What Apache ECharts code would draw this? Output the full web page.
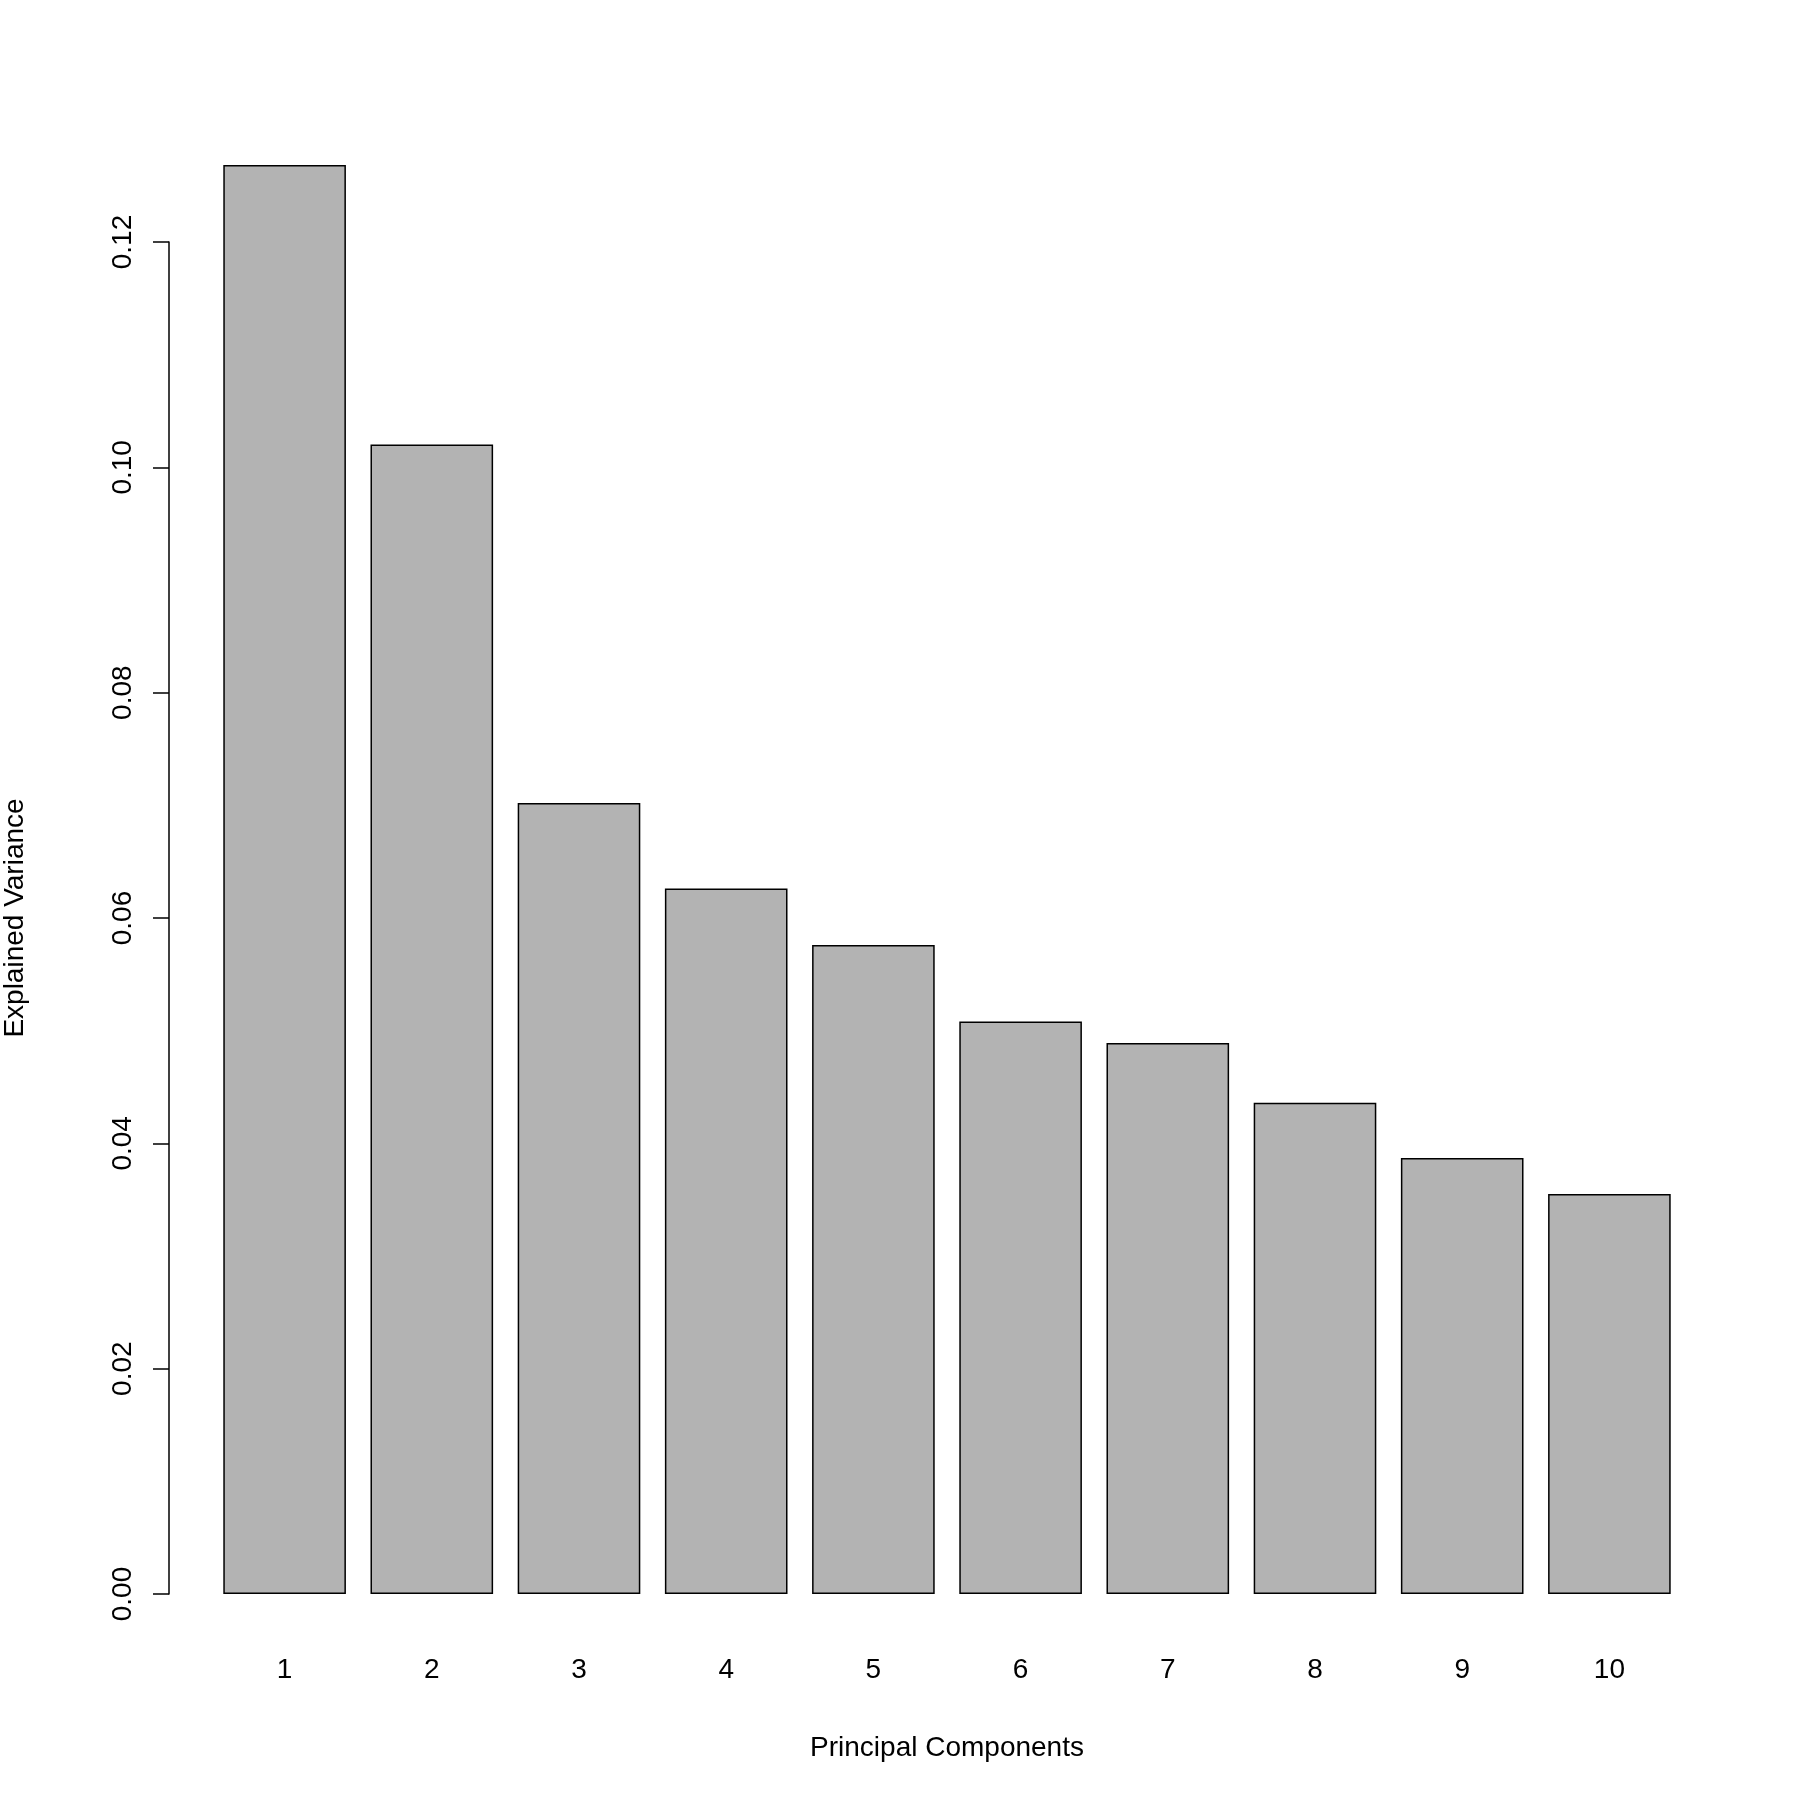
<!DOCTYPE html>
<html><head><meta charset="utf-8">
<script src="https://cdn.jsdelivr.net/npm/echarts@6/dist/echarts.min.js"></script>
<style>html,body{margin:0;background:#fff}#c{width:1800px;height:1800px}</style>
</head><body><div id="c"></div>
<script>
const categories = ['1','2','3','4','5','6','7','8','9','10'];
const values = [0.1268, 0.1020, 0.0702, 0.0626, 0.0576, 0.0508, 0.0489, 0.0436, 0.0387, 0.0355];
const yTicks = [0, 0.02, 0.04, 0.06, 0.08, 0.10, 0.12];
const F = 'Liberation Sans, Arial, sans-serif';
const chart = echarts.init(document.getElementById('c'));
chart.setOption({
  backgroundColor: '#fff',
  animation: false,
  grid: [
    {left: 165, width: 10, top: 242, bottom: 206},
    {left: 211, right: 117, top: 129, bottom: 206}
  ],
  xAxis: [
    {gridIndex: 0, type: 'value', show: false},
    {gridIndex: 1, type: 'category', data: categories,
     axisLine: {show: false}, axisTick: {show: false},
     axisLabel: {fontSize: 28, color: '#000', fontFamily: F, margin: 62},
     name: 'Principal Components', nameLocation: 'middle', nameGap: 140,
     nameTextStyle: {fontSize: 28, color: '#000', fontFamily: F}}
  ],
  yAxis: [
    {gridIndex: 0, type: 'value', min: 0, max: yTicks[yTicks.length-1], interval: 0.02,
     axisLine: {show: true, lineStyle: {color: '#000', width: 1.5}},
     axisTick: {show: true, length: 16, lineStyle: {color: '#000', width: 1.5}},
     splitLine: {show: false},
     axisLabel: {fontSize: 28, color: '#000', fontFamily: F, rotate: 90, margin: 32,
       formatter: v => v.toFixed(2)},
     name: 'Explained Variance', nameLocation: 'middle', nameGap: 140,
     nameTextStyle: {fontSize: 28, color: '#000', fontFamily: F}},
    {gridIndex: 1, type: 'value', min: 0, max: 0.13, show: false}
  ],
  series: [{
    type: 'bar', xAxisIndex: 1, yAxisIndex: 1, data: values, barWidth: '83.3%',
    itemStyle: {color: '#b3b3b3', borderColor: '#000', borderWidth: 1.5}
  }]
});
</script></body></html>
